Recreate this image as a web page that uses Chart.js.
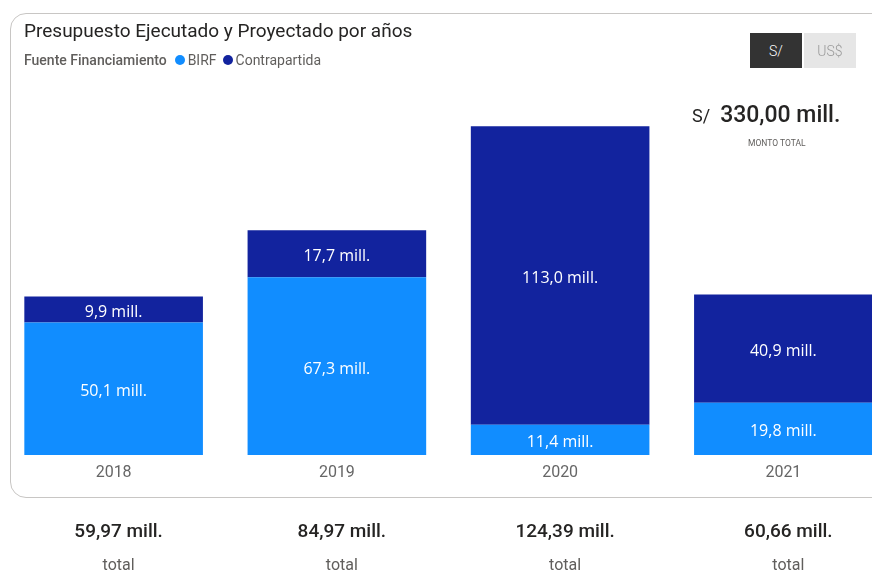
<!DOCTYPE html>
<html><head><meta charset="utf-8">
<script src="https://cdn.jsdelivr.net/npm/chart.js@4/dist/chart.umd.min.js"></script>
<style>
html,body{margin:0;padding:0;width:872px;height:571px;overflow:hidden;background:#fff;position:relative;font-family:Roboto,"Noto Sans",sans-serif;}
#frame{position:absolute;left:10px;top:13px;width:900px;height:485px;border:1px solid #c8c6c4;border-radius:16px;box-sizing:border-box;}
#c{position:absolute;left:0;top:0;}
.abs{position:absolute;white-space:nowrap;}
#title{left:24px;top:19px;font-size:19px;color:#252423;}
#legend{left:24px;top:52px;font-size:14px;color:#605e5c;display:flex;align-items:center;}
#legend .dot{display:inline-block;width:10px;height:10px;border-radius:50%;margin:0 3px 0 8px;}
.btn{top:33px;height:35px;width:52px;font-size:14px;font-weight:300;display:flex;align-items:center;justify-content:center;}
#b1{left:750px;background:#333;color:#fff;}
#b2{left:804px;background:#e6e6e6;color:#999;}
#monto{left:692px;top:101px;color:#252423;}
#monto .cur{font-size:18px;margin-right:10px;}
#monto .val{font-size:23px;font-weight:500;}
#mlab{left:748px;top:138px;font-size:8.5px;color:#605e5c;}
</style></head><body>
<div id="frame"></div>
<canvas id="c" width="900" height="571"></canvas>
<div class="abs" id="title">Presupuesto Ejecutado y Proyectado por años</div>
<div class="abs" id="legend"><span style="font-weight:500">Fuente Financiamiento</span><span class="dot" style="background:#118DFF"></span>BIRF<span class="dot" style="background:#12239E;margin-left:6px"></span>Contrapartida</div>
<div class="abs btn" id="b1">S/</div>
<div class="abs btn" id="b2">US$</div>
<div class="abs" id="monto"><span class="cur">S/</span><span class="val">330,00 mill.</span></div>
<div class="abs" id="mlab">MONTO TOTAL</div>
<script>
const years = ["2018","2019","2020","2021"];
const birf = [50.1, 67.3, 11.4, 19.8];
const contrapartida = [9.9, 17.7, 113.0, 40.9];
const totals = ["59,97 mill.","84,97 mill.","124,39 mill.","60,66 mill."];

const fmt = v => v.toFixed(1).replace('.', ',') + ' mill.';

const labelPlugin = {
  id: 'labels',
  afterDatasetsDraw(chart) {
    const ctx = chart.ctx;
    ctx.save();
    ctx.textAlign = 'center';
    ctx.textBaseline = 'middle';
    ctx.font = '16px "Open Sans", sans-serif';
    ctx.fillStyle = '#ffffff';
    chart.data.datasets.forEach((ds, di) => {
      chart.getDatasetMeta(di).data.forEach((bar, i) => {
        const top = Math.min(bar.y, bar.base), bot = Math.max(bar.y, bar.base);
        ctx.fillText(fmt(ds.data[i]), bar.x, (top + bot) / 2 + 3);
      });
    });
    const xs = chart.scales.x;
    totals.forEach((t, i) => {
      const x = xs.getPixelForValue(i) + 5;
      ctx.font = '500 19px Roboto, sans-serif';
      ctx.fillStyle = '#252423';
      ctx.fillText(t, x, 532);
      ctx.font = '16px Roboto, sans-serif';
      ctx.fillStyle = '#605e5c';
      ctx.fillText('total', x, 566);
    });
    ctx.restore();
  }
};

new Chart(document.getElementById('c'), {
  type: 'bar',
  data: {
    labels: years,
    datasets: [
      { label: 'BIRF', data: birf, backgroundColor: '#118DFF', categoryPercentage: 0.8, barPercentage: 1 },
      { label: 'Contrapartida', data: contrapartida, backgroundColor: '#12239E', categoryPercentage: 0.8, barPercentage: 1 }
    ]
  },
  options: {
    responsive: false,
    animation: false,
    devicePixelRatio: 1,
    layout: { padding: { left: 2, right: 5, top: 85, bottom: 86 } },
    plugins: { legend: { display: false }, tooltip: { enabled: false } },
    scales: {
      x: {
        stacked: true,
        grid: { display: false, drawTicks: false },
        border: { display: false },
        ticks: { color: '#666666', font: { family: 'Roboto', size: 16 }, padding: 8 },
        afterFit(s) { s.height = 30; }
      },
      y: { stacked: true, display: false, min: 0, max: 140 }
    }
  },
  plugins: [labelPlugin]
});
</script>
</body></html>
